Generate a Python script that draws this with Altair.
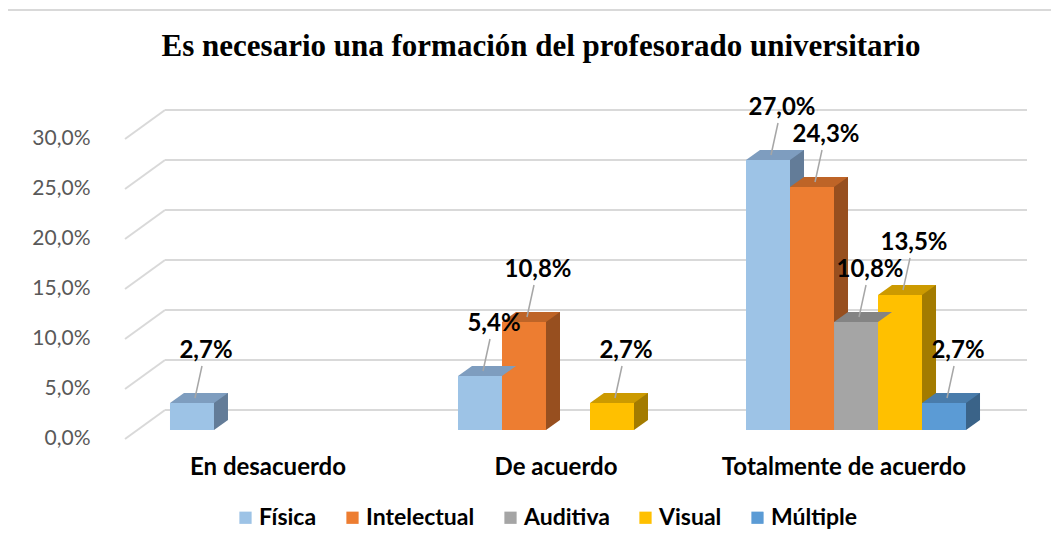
import altair as alt
import pandas as pd

# ---- data ----
categories = ["En desacuerdo", "De acuerdo", "Totalmente de acuerdo"]
series = ["Física", "Intelectual", "Auditiva", "Visual", "Múltiple"]
fisica = [2.7, 5.4, 27.0]
intelectual = [0.0, 10.8, 24.3]
auditiva = [0.0, 0.0, 10.8]
visual = [0.0, 2.7, 13.5]
multiple = [0.0, 0.0, 2.7]
y_ticks = [0, 5, 10, 15, 20, 25, 30]

# ---- palette (front / top / side faces) ----
front_colors = ["#9DC3E6", "#ED7D31", "#A5A5A5", "#FFC000", "#5B9BD5"]
top_colors = ["#7E9DBF", "#BE6427", "#848484", "#CC9A00", "#497CAB"]
side_colors = ["#637C98", "#974F1F", "#696969", "#A37B00", "#3A6388"]

values = [fisica, intelectual, auditiva, visual, multiple]
rows = []
for s, vals, tc, sc in zip(series, values, top_colors, side_colors):
    for c, v in zip(categories, vals):
        rows.append({"categoria": c, "serie": s, "valor": v,
                     "etiqueta": f"{v:.1f}%".replace(".", ","),
                     "top": tc, "side": sc})
df = pd.DataFrame(rows)
ticks = pd.DataFrame({"t": y_ticks})

FONT = "Lato"
W, H = 864, 300
DEPTH_X, DEPTH_Y = 14, 10
yscale = alt.Scale(domain=[0, 30], nice=False)
xscale = alt.Scale(domain=categories, paddingInner=0.2361, paddingOuter=0.118)
xscale_back = alt.Scale(domain=categories, paddingInner=0.2361, paddingOuter=0.118,
                        range=[DEPTH_X, W + DEPTH_X])
oscale = alt.Scale(domain=series, paddingInner=0, paddingOuter=0)

y_axis = alt.Axis(title=None, domain=False, ticks=False, grid=False,
                  values=y_ticks, labelFont=FONT, labelFontSize=21,
                  labelColor="#595959", labelPadding=46, labelOffset=8,
                  labelExpr="replace(format(datum.value, '.1f'), '.', ',') + '%'")

base = alt.Chart(df).transform_filter("datum.valor > 0")
X = alt.X("categoria:N", scale=xscale, sort=categories,
          axis=alt.Axis(title=None, domain=False, ticks=False, labelAngle=0, labelLimit=0,
                        labelFont=FONT, labelFontSize=24, labelFontWeight="bold",
                        labelColor="#000000", labelPadding=25, labelOffset=-12))
Xn = alt.X("categoria:N", scale=xscale, sort=categories, axis=None)
Xb = alt.X("categoria:N", scale=xscale_back, sort=categories, axis=None)
XO = alt.XOffset("serie:N", scale=oscale, sort=series)
Y = alt.Y("valor:Q", scale=yscale, axis=y_axis)

# grid: slanted floor part + back wall part
grid_slant = alt.Chart(ticks).mark_rule(color="#D9D9D9", strokeWidth=2, yOffset=9, y2Offset=-20).encode(
    x=alt.value(-11), x2=alt.value(29), y=alt.Y("t:Q", scale=yscale, axis=y_axis), y2="t:Q")
grid_back = alt.Chart(ticks).mark_rule(color="#D9D9D9", strokeWidth=2, yOffset=-20).encode(
    x=alt.value(29), x2=alt.value(891), y=alt.Y("t:Q", scale=yscale, axis=y_axis))

# border of the chart area
border = alt.Chart(ticks.head(1)).mark_rule(color="#D9D9D9", strokeWidth=2).encode(
    x=alt.value(-129), x2=alt.value(920), y=alt.value(-120))
border2 = alt.Chart(ticks.head(1)).mark_rule(color="#D9D9D9", strokeWidth=2).encode(
    x=alt.value(-129), y=alt.value(-120), y2=alt.value(420))

# back (side) faces: same bars, shifted right and up
back = base.mark_bar(yOffset=-DEPTH_Y, y2Offset=-DEPTH_Y).encode(
    x=Xb, xOffset=XO, y=Y, y2=alt.datum(0), fill=alt.Fill("side:N", scale=None))

tri_path = "M 0.44 0 L 0.44 -0.2 L 0.72 -0.2 Z"
bottom_tri = base.mark_point(shape=tri_path, size=10000, filled=True, opacity=1, strokeWidth=0).encode(
    x=Xn, xOffset=XO, y=alt.Y("zero:Q", scale=yscale, axis=y_axis),
    fill=alt.Fill("side:N", scale=None)
).transform_calculate(zero="0")

front = base.mark_bar().encode(
    x=X, xOffset=XO, y=Y,
    color=alt.Color("serie:N", scale=alt.Scale(domain=series, range=front_colors), sort=series,
                    legend=alt.Legend(title=None, orient="none", direction="horizontal",
                                      legendX=98, legendY=376, symbolType="square",
                                      symbolSize=150, symbolStrokeWidth=0,
                                      labelFont=FONT, labelFontSize=23, labelFontWeight="bold",
                                      labelColor="#000000", columnPadding=24, labelOffset=2,
                                      labelLimit=0)))

top_path = "M -0.44 0 L 0.44 0 L 0.72 -0.2 L -0.16 -0.2 Z"
top = base.mark_point(shape=top_path, size=10000, filled=True, opacity=1, strokeWidth=0).encode(
    x=Xn, xOffset=XO, y=Y, fill=alt.Fill("top:N", scale=None))

leader_path = "M 0.06 -0.1 L 0.2 -0.74"
leader = base.mark_point(shape=leader_path, size=10000, filled=False, opacity=1,
                         stroke="#A6A6A6", strokeWidth=1.5).encode(x=Xn, xOffset=XO, y=Y)

labels = base.mark_text(dx=14, dy=-52, font=FONT, fontSize=24, fontWeight="bold",
                        color="#000000").encode(x=Xn, xOffset=XO, y=Y, text="etiqueta:N")

title = alt.Chart(ticks.head(1)).mark_text(
    text="Es necesario una formación del profesorado universitario",
    font="Liberation Serif", fontSize=31, fontWeight="bold", baseline="middle",
    align="center", color="#000000").encode(x=alt.value(405), y=alt.value(-83))

chart = alt.layer(grid_slant, grid_back, border, border2, back, bottom_tri, front, top,
                  leader, labels, title).resolve_scale(x="independent").properties(
    width=W, height=H,
    autosize=alt.AutoSizeParams(type="none"),
    padding={"left": 128, "top": 122, "right": 51, "bottom": 115},
).configure(background="#FFFFFF", view=alt.ViewConfig(strokeWidth=0, stroke="transparent"))

chart.save("out.html", embed_options={"renderer": "svg", "actions": False})
